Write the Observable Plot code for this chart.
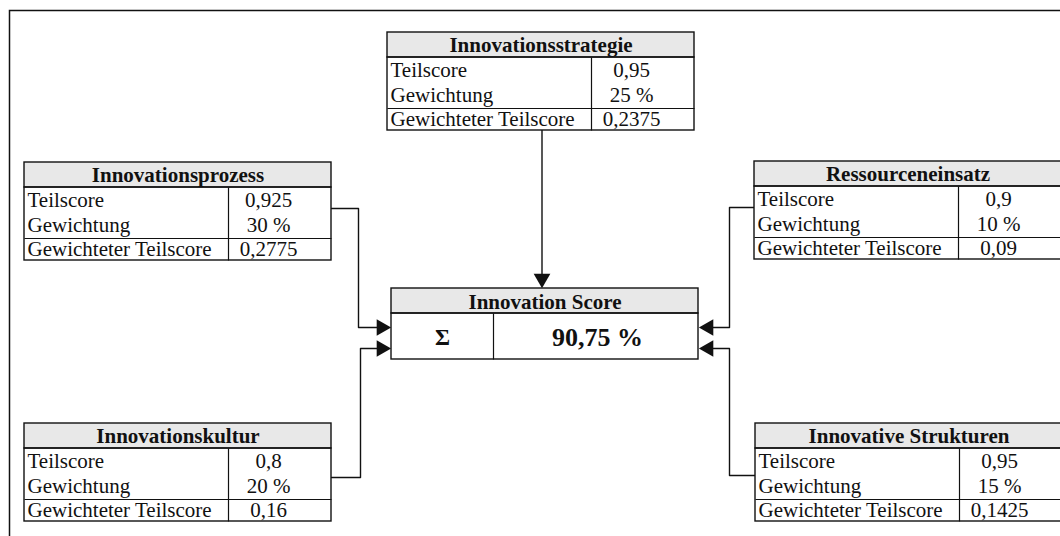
<!DOCTYPE html>
<html>
<head>
<meta charset="utf-8">
<script src="https://cdn.jsdelivr.net/npm/d3@7"></script>
<script src="https://cdn.jsdelivr.net/npm/@observablehq/plot@0.6"></script>
<style>
  html, body { margin: 0; padding: 0; background: #fff; }
  #chart svg { display: block; }
</style>
</head>
<body>
<div id="chart"></div>
<script>
// ---- data ----
const categories = ["Innovationsstrategie", "Innovationsprozess", "Ressourceneinsatz", "Innovationskultur", "Innovative Strukturen"];
const teilscores = [0.95, 0.925, 0.9, 0.8, 0.95];
const weights = [25, 30, 10, 20, 15];            // percent
const weightedScores = [0.2375, 0.2775, 0.09, 0.16, 0.1425];
const rowLabels = ["Teilscore", "Gewichtung", "Gewichteter Teilscore"];
const totalTitle = "Innovation Score";
const totalSymbol = "Σ";
const totalValue = 90.75;                        // percent

// ---- layout (pixel positions of the diagram) ----
const W = 1060, H = 536;
const boxW = 307, headH = 25, lastRowTop = 76, boxH = 98, colOff = 204;
const boxPos = [
  {x: 387, y: 32, side: "top"},
  {x: 24, y: 162, side: "left", attachY: 208, bendX: 358, arrowY: 327},
  {x: 754, y: 161, side: "right", attachY: 207, bendX: 729, arrowY: 327},
  {x: 24, y: 423, side: "left", attachY: 477, bendX: 360, arrowY: 348},
  {x: 755, y: 423, side: "right", attachY: 475, bendX: 729, arrowY: 348}
];
const total = {x: 391, y: 288, w: 307, headH: 25, h: 71, col: 102};

const de = v => String(v).replace(".", ",");

const boxes = categories.map((name, i) => ({
  name, ...boxPos[i],
  values: [de(teilscores[i]), de(weights[i]) + " %", de(weightedScores[i])]
}));

// rects
const headRects = boxes.map(b => ({x1: b.x, x2: b.x + boxW, y1: b.y, y2: b.y + headH}));
headRects.push({x1: total.x, x2: total.x + total.w, y1: total.y, y2: total.y + total.headH});
const bodyRects = boxes.map(b => ({x1: b.x, x2: b.x + boxW, y1: b.y + headH, y2: b.y + boxH}));
bodyRects.push({x1: total.x, x2: total.x + total.w, y1: total.y + total.headH, y2: total.y + total.h});

// inner dividers
const dividers = [];
boxes.forEach(b => {
  dividers.push({x1: b.x, y1: b.y + lastRowTop, x2: b.x + boxW, y2: b.y + lastRowTop});
  dividers.push({x1: b.x + colOff, y1: b.y + headH, x2: b.x + colOff, y2: b.y + boxH});
});
dividers.push({x1: total.x + total.col, y1: total.y + total.headH, x2: total.x + total.col, y2: total.y + total.h});

// texts
const headTexts = boxes.map(b => ({x: b.x + boxW / 2, y: b.y + 13, t: b.name}));
headTexts.push({x: total.x + total.w / 2, y: total.y + 14, t: totalTitle});
const labelTexts = [], valueTexts = [];
const rowY = [38, 63, 87];
boxes.forEach(b => {
  rowLabels.forEach((l, j) => {
    labelTexts.push({x: b.x + 3, y: b.y + rowY[j], t: l});
    valueTexts.push({x: b.x + colOff + 40, y: b.y + rowY[j], t: b.values[j]});
  });
});

// connectors
const ah = 15; // arrow head length
const conn = [], heads = [];
boxes.forEach((b, i) => {
  if (b.side === "top") {
    const cx = b.x + boxW / 2 + 1;
    conn.push({id: i, x: cx, y: b.y + boxH}, {id: i, x: cx, y: total.y - ah + 2});
    heads.push({x: cx, y: total.y - ah * 2 / 3, r: 180});
  } else if (b.side === "left") {
    const tip = total.x;
    conn.push({id: i, x: b.x + boxW, y: b.attachY}, {id: i, x: b.bendX, y: b.attachY},
              {id: i, x: b.bendX, y: b.arrowY}, {id: i, x: tip - ah + 2, y: b.arrowY});
    heads.push({x: tip - ah * 2 / 3, y: b.arrowY, r: 90});
  } else {
    const tip = total.x + total.w;
    conn.push({id: i, x: b.x, y: b.attachY}, {id: i, x: b.bendX, y: b.attachY},
              {id: i, x: b.bendX, y: b.arrowY}, {id: i, x: tip + ah - 2, y: b.arrowY});
    heads.push({x: tip + ah * 2 / 3, y: b.arrowY, r: -90});
  }
});

const font = "'Liberation Serif', 'Times New Roman', serif";
const ink = "#111";

const chart = Plot.plot({
  width: W, height: H,
  margin: 0,
  x: {type: "identity"},
  y: {type: "identity"},
  style: {background: "#fff"},
  marks: [
    Plot.rect([{x1: 9.5, x2: W + 20, y1: 10.5, y2: H + 20}], {x1: "x1", x2: "x2", y1: "y1", y2: "y2", fill: "none", stroke: ink, strokeWidth: 1.5}),
    Plot.line(conn, {x: "x", y: "y", z: "id", stroke: ink, strokeWidth: 1.4, curve: "linear"}),
    Plot.dot(heads, {x: "x", y: "y", rotate: "r", symbol: "triangle", r: 6.2, fill: ink, stroke: "none"}),
    Plot.rect(bodyRects, {x1: "x1", x2: "x2", y1: "y1", y2: "y2", fill: "#fff"}),
    Plot.rect(headRects, {x1: "x1", x2: "x2", y1: "y1", y2: "y2", fill: "#e8e8e8"}),
    Plot.link(dividers, {x1: "x1", y1: "y1", x2: "x2", y2: "y2", stroke: ink, strokeWidth: 1.2}),
    Plot.rect(headRects, {x1: "x1", x2: "x2", y1: "y1", y2: "y2", fill: "none", stroke: ink, strokeWidth: 1.4}),
    Plot.rect(bodyRects, {x1: "x1", x2: "x2", y1: "y1", y2: "y2", fill: "none", stroke: ink, strokeWidth: 1.4}),
    Plot.text(headTexts, {x: "x", y: "y", text: "t", fontFamily: font, fontSize: 21, fontWeight: "bold", fill: ink, textAnchor: "middle", lineAnchor: "middle"}),
    Plot.text(labelTexts, {x: "x", y: "y", text: "t", fontFamily: font, fontSize: 21, fill: ink, textAnchor: "start", lineAnchor: "middle"}),
    Plot.text(valueTexts, {x: "x", y: "y", text: "t", fontFamily: font, fontSize: 21, fill: ink, textAnchor: "middle", lineAnchor: "middle"}),
    Plot.text([{x: total.x + total.col / 2, y: total.y + 49, t: totalSymbol}], {x: "x", y: "y", text: "t", fontFamily: font, fontSize: 23, fontWeight: "bold", fill: ink, textAnchor: "middle", lineAnchor: "middle"}),
    Plot.text([{x: total.x + total.col + 104, y: total.y + 49, t: de(totalValue) + " %"}], {x: "x", y: "y", text: "t", fontFamily: font, fontSize: 26, fontWeight: "bold", fill: ink, textAnchor: "middle", lineAnchor: "middle"})
  ]
});
document.getElementById("chart").appendChild(chart);
</script>
</body>
</html>
